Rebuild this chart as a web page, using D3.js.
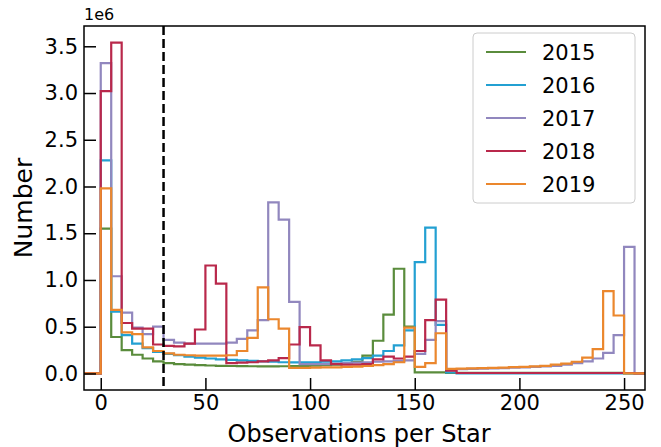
<!DOCTYPE html>
<html>
<head>
<meta charset="utf-8">
<script src="https://cdn.jsdelivr.net/npm/d3@7"></script>
<style>
  body { margin: 0; background: #fff; }
  svg { font-family: "DejaVu Sans", sans-serif; }
</style>
</head>
<body>
<div id="chart"></div>
<script>
// histogram bins: 5 observations wide, first bin starts at 0
const binStart = 0;
const binWidth = 5;
const years = ['2015', '2016', '2017', '2018', '2019'];
const colors = ['#5a8c3c', '#23a0d2', '#9187be', '#b9284b', '#eb872d'];

// counts per bin, in millions of stars (bins 0-5, 5-10, ... 255-260)
const counts2015 = [1.55, 0.39, 0.25, 0.20, 0.16, 0.13, 0.11, 0.10, 0.095, 0.09,
  0.085, 0.082, 0.08, 0.078, 0.077, 0.076, 0.076, 0.077, 0.078, 0.08,
  0.083, 0.088, 0.095, 0.105, 0.125, 0.19, 0.35, 0.63, 1.12, 0.50,
  0.012, 0.012, 0.012, 0.006, 0.006, 0.006, 0.006, 0.006, 0.006, 0.006,
  0.006, 0.006, 0.006, 0.006, 0.006, 0.006, 0.006, 0.006, 0.006, 0.006,
  0, 0];
const counts2016 = [2.28, 0.66, 0.41, 0.32, 0.27, 0.23, 0.21, 0.195, 0.18, 0.17,
  0.16, 0.15, 0.145, 0.14, 0.135, 0.13, 0.125, 0.12, 0.118, 0.118,
  0.12, 0.125, 0.13, 0.14, 0.15, 0.165, 0.19, 0.24, 0.30, 0.46,
  1.19, 1.56, 0.52, 0.01, 0, 0, 0, 0, 0, 0,
  0, 0, 0, 0, 0, 0, 0, 0, 0, 0,
  0, 0];
const counts2017 = [3.32, 1.04, 0.65, 0.49, 0.42, 0.50, 0.36, 0.33, 0.32, 0.32,
  0.32, 0.32, 0.33, 0.37, 0.46, 0.57, 1.83, 1.645, 0.765, 0.10,
  0.10, 0.10, 0.105, 0.11, 0.115, 0.12, 0.125, 0.13, 0.135, 0.14,
  0.21, 0.36, 0.56, 0.045, 0.047, 0.05, 0.052, 0.055, 0.058, 0.062,
  0.066, 0.07, 0.075, 0.08, 0.095, 0.11, 0.13, 0.16, 0.22, 0.41,
  1.355, 0];
const counts2018 = [3.02, 3.54, 0.54, 0.48, 0.48, 0.31, 0.295, 0.29, 0.32, 0.47,
  1.155, 0.96, 0.11, 0.115, 0.12, 0.13, 0.14, 0.165, 0.31, 0.495,
  0.30, 0.14, 0.10, 0.095, 0.095, 0.10, 0.15, 0.18, 0.16, 0.18,
  0.24, 0.57, 0.79, 0.03, 0.005, 0.005, 0.005, 0.005, 0.005, 0.005,
  0.005, 0.005, 0.005, 0.005, 0.005, 0.005, 0.005, 0.005, 0.005, 0.005,
  0.005, 0];
const counts2019 = [1.98, 0.68, 0.44, 0.42, 0.28, 0.24, 0.215, 0.20, 0.195, 0.19,
  0.19, 0.19, 0.195, 0.24, 0.38, 0.92, 0.58, 0.48, 0.06, 0.06,
  0.062, 0.064, 0.066, 0.07, 0.074, 0.08, 0.09, 0.10, 0.12, 0.49,
  0.07, 0.11, 0.43, 0.05, 0.052, 0.054, 0.057, 0.06, 0.063, 0.067,
  0.071, 0.076, 0.082, 0.095, 0.105, 0.125, 0.17, 0.26, 0.88, 0.62,
  0, 0];
const allCounts = [counts2015, counts2016, counts2017, counts2018, counts2019];

const xTicks = [0, 50, 100, 150, 200, 250];
const yTicks = [0, 0.5, 1.0, 1.5, 2.0, 2.5, 3.0, 3.5];
const cutLine = 30;

const width = 661;
const height = 447;
const margin = {top: 26, right: 16, bottom: 57, left: 84};
const innerW = width - margin.left - margin.right;
const innerH = height - margin.top - margin.bottom;

const svg = d3.select('#chart').append('svg')
  .attr('width', width)
  .attr('height', height);

const yMax = d3.max(allCounts, c => d3.max(c)) * 1e6;

const x = d3.scaleLinear().domain([-8, 260]).range([0, innerW]);
const y = d3.scaleLinear().domain([-0.05 * yMax, 1.05 * yMax]).range([innerH, 0]);

const g = svg.append('g')
  .attr('transform', `translate(${margin.left},${margin.top})`);

g.append('clipPath').attr('id', 'clip')
  .append('rect').attr('width', innerW).attr('height', innerH);

// step outline like histtype='step', with two empty bins before zero
function stepPoints (counts) {
  const vals = [0, 0].concat(counts);
  const start = binStart - 2 * binWidth;
  const pts = [[start, 0]];
  vals.forEach((v, i) => {
    const e = start + i * binWidth;
    pts.push([e, v * 1e6]);
    pts.push([e + binWidth, v * 1e6]);
  });
  pts.push([start + vals.length * binWidth, 0]);
  return pts;
}

const line = d3.line()
  .x(d => x(d[0]))
  .y(d => y(d[1]));

g.append('g')
  .attr('clip-path', 'url(#clip)')
  .selectAll('path')
  .data(allCounts)
  .enter().append('path')
    .attr('d', d => line(stepPoints(d)))
    .attr('fill', 'none')
    .attr('stroke', (d, i) => colors[i])
    .attr('stroke-width', 2.2)
    .attr('stroke-linejoin', 'miter');

g.append('line')
  .attr('x1', x(cutLine)).attr('x2', x(cutLine))
  .attr('y1', 0).attr('y2', innerH)
  .attr('stroke', '#000')
  .attr('stroke-width', 2.5)
  .attr('stroke-dasharray', '9,4');

// axes, ticks pointing inwards
const xAxis = g.append('g')
  .attr('transform', `translate(0,${innerH})`)
  .call(d3.axisBottom(x).tickValues(xTicks).tickSizeInner(-12).tickSizeOuter(0).tickPadding(5));

const yAxis = g.append('g')
  .call(d3.axisLeft(y).tickValues(yTicks.map(v => v * 1e6))
    .tickFormat(d => (d / 1e6).toFixed(1))
    .tickSizeInner(-12).tickSizeOuter(0).tickPadding(6));

[xAxis, yAxis].forEach(a => {
  a.select('.domain').remove();
  a.selectAll('line').attr('stroke', '#000').attr('stroke-width', 1.5);
  a.selectAll('text')
    .attr('fill', '#000')
    .style('font-size', '21px')
    .style('font-family', '"DejaVu Sans", sans-serif');
});

g.append('rect')
  .attr('width', innerW).attr('height', innerH)
  .attr('fill', 'none')
  .attr('stroke', '#000')
  .attr('stroke-width', 1.5);

svg.append('text')
  .attr('x', margin.left)
  .attr('y', 20)
  .style('font-size', '16px')
  .text('1e6');

svg.append('text')
  .attr('x', 359)
  .attr('y', 442)
  .attr('text-anchor', 'middle')
  .style('font-size', '24px')
  .text('Observations per Star');

svg.append('text')
  .attr('transform', `translate(32,${margin.top + innerH / 2}) rotate(-90)`)
  .attr('text-anchor', 'middle')
  .style('font-size', '25px')
  .text('Number');

// legend
const legend = svg.append('g');
legend.append('rect')
  .attr('x', 473).attr('y', 33)
  .attr('width', 162).attr('height', 170)
  .attr('rx', 4)
  .attr('fill', '#fff').attr('fill-opacity', 0.8)
  .attr('stroke', '#ccc');

const item = legend.selectAll('g.item')
  .data(years)
  .enter().append('g')
    .attr('class', 'item')
    .attr('transform', (d, i) => `translate(0,${52 + i * 33})`);

item.append('line')
  .attr('x1', 486).attr('x2', 526)
  .attr('stroke', (d, i) => colors[i])
  .attr('stroke-width', 2.2);

item.append('text')
  .attr('x', 542)
  .attr('dy', '0.36em')
  .style('font-size', '21px')
  .text(d => d);
</script>
</body>
</html>
